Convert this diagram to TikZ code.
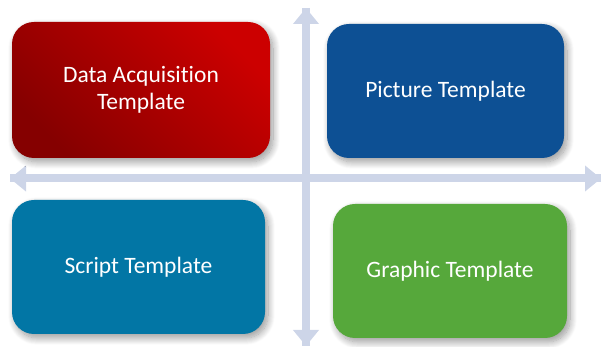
\documentclass[tikz,border=0pt]{standalone}
\usepackage{fontspec}
\setmainfont{Carlito}[Ligatures=NoCommon]
\usetikzlibrary{arrows.meta,shadows.blur}
\definecolor{axiscol}{HTML}{CDD5E8}
\definecolor{reddark}{HTML}{850000}
\definecolor{redlight}{HTML}{CC0000}
\definecolor{picblue}{HTML}{0D5094}
\definecolor{scriptblue}{HTML}{0276A5}
\definecolor{graphgreen}{HTML}{56A83B}
\tikzset{
  tile/.style={rounded corners=22pt, minimum width=#1, text=white, align=center,
    font=\fontsize{23.5}{27}\selectfont, inner sep=0pt,
    blur shadow={shadow xshift=3pt, shadow yshift=-4pt, shadow blur radius=7pt, shadow blur steps=14, shadow opacity=40}},
  axisline/.style={draw=axiscol, line width=8pt, -{Triangle[width=25pt,length=16pt]}}
}
\begin{document}
\begin{tikzpicture}[x=1pt,y=1pt]
\useasboundingbox (0,0) rectangle (602,347);
% axes
\coordinate (hl) at (10,168.5);
\coordinate (hr) at (601,168.5);
\coordinate (vb) at (306,1);
\coordinate (vt) at (306,339);
\draw[axisline] (hr) -- (hl);
\draw[axisline] (hl) -- (hr);
\draw[axisline] (vt) -- (vb);
\draw[axisline] (vb) -- (vt);
% tiles
\node[tile=258pt, minimum height=136pt, bottom color=reddark, top color=redlight, shading angle=-45] (daq) at (141,257) {Data Acquisition\\Template};
\node[tile=237pt, minimum height=134pt, fill=picblue] (pic) at (445.5,256) {Picture Template};
\node[tile=253pt, minimum height=134pt, fill=scriptblue] (scr) at (138.5,80) {Script Template};
\node[tile=234pt, minimum height=134pt, fill=graphgreen] (gra) at (450,76) {Graphic Template};
\end{tikzpicture}
\end{document}
